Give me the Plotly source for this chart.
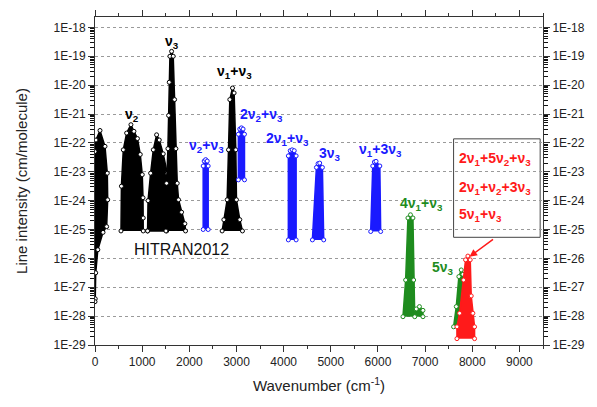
import plotly.graph_objects as go

# ---- band envelopes (wavenumber cm-1, log10 intensity) ----
rot_wn  = [0, 21, 106, 212, 261, 269, 247, 170, 60, 15, 5, 0]
rot_lg  = [-22.3, -21.9, -21.57, -22.12, -23.05, -23.97, -24.9, -25.1, -25.7, -26.5, -27.4, -27.5]

nu2_wn  = [551, 560, 600, 671, 762, 826, 900, 960, 1002, 1018, 1023, 1023]
nu2_lg  = [-25.05, -23.5, -22.24, -21.66, -21.37, -21.6, -21.85, -22.4, -23.1, -23.9, -24.6, -25.05]

nu1_wn  = [1115, 1125, 1179, 1236, 1306, 1363, 1447, 1532, 1520, 1115]
nu1_lg  = [-25.05, -24.0, -23.05, -22.24, -21.72, -21.9, -22.38, -23.05, -25.05, -25.05]

nu3_wn  = [1504, 1518, 1546, 1560, 1574, 1589, 1624, 1659, 1688, 1716, 1744, 1772, 1836, 1906, 1920]
nu3_lg  = [-25.05, -23.4, -22.2, -21.05, -19.9, -19.0, -18.83, -19.0, -20.5, -22.2, -23.4, -23.97, -24.4, -24.8, -25.05]

n13_wn  = [2696, 2732, 2802, 2831, 2859, 2916, 2950, 2986, 3000, 3071, 3127]
n13_lg  = [-25.05, -24.66, -23.97, -22.24, -20.5, -20.1, -20.27, -22.24, -23.97, -24.66, -25.05]

n23_wn  = [2294, 2294, 2315, 2347, 2380, 2400, 2400]
n23_lg  = [-25.0, -22.8, -22.63, -22.58, -22.63, -22.8, -25.0]

b2n23_wn = [3040, 3040, 3070, 3105, 3140, 3170, 3170]
b2n23_lg = [-23.28, -21.7, -21.52, -21.48, -21.52, -21.7, -23.28]

b2n13_wn = [4100, 4100, 4140, 4180, 4225, 4265, 4265]
b2n13_lg = [-25.36, -22.45, -22.27, -22.24, -22.27, -22.45, -25.36]

b3n3_wn = [4610, 4695, 4730, 4765, 4822, 4850]
b3n3_lg = [-25.36, -22.85, -22.72, -22.7, -22.85, -25.36]

bn133_wn = [5846, 5890, 5925, 5960, 6040, 6058]
bn133_lg = [-25.07, -22.8, -22.66, -22.64, -22.8, -25.07]

g41_wn  = [6530, 6587, 6636, 6690, 6742, 6757, 6780, 6813, 6880, 6954, 6954]
g41_lg  = [-28.02, -26.75, -24.6, -24.49, -24.6, -26.75, -28.02, -27.75, -27.67, -27.8, -28.02]

g5_wn   = [7604, 7661, 7716, 7766, 7801, 7830, 7830]
g5_lg   = [-28.37, -27.67, -26.63, -26.4, -26.55, -27.6, -28.37]

red_wn  = [7675, 7675, 7731, 7816, 7858, 7907, 7957, 7978, 8013, 8049, 8049]
red_lg  = [-28.78, -28.37, -27.9, -26.75, -26.05, -25.92, -26.05, -27.3, -27.9, -28.37, -28.78]

x_ticks = [0, 1000, 2000, 3000, 4000, 5000, 6000, 7000, 8000, 9000]
y_exps = list(range(-29, -17))
y_ticktext = ["1E%d" % e for e in y_exps]

BLACK = "#000000"
BLUE = "#1a1aff"
GREEN = "#1e8c1e"
RED = "#ff1a1a"
FONT = "Liberation Sans, Arial, sans-serif"

bands = [
    (rot_wn, rot_lg, BLACK), (nu2_wn, nu2_lg, BLACK), (nu1_wn, nu1_lg, BLACK),
    (nu3_wn, nu3_lg, BLACK), (n13_wn, n13_lg, BLACK),
    (n23_wn, n23_lg, BLUE), (b2n23_wn, b2n23_lg, BLUE), (b2n13_wn, b2n13_lg, BLUE),
    (b3n3_wn, b3n3_lg, BLUE), (bn133_wn, bn133_lg, BLUE),
    (g41_wn, g41_lg, GREEN), (g5_wn, g5_lg, GREEN), (red_wn, red_lg, RED),
]

fig = go.Figure()
for wn, lg, col in bands:
    fig.add_trace(go.Scatter(
        x=wn, y=[10 ** v for v in lg], mode="lines+markers", fill="toself",
        fillcolor=col, line=dict(color=col, width=1.5),
        marker=dict(symbol="circle", size=4, color="white", line=dict(color=col, width=1)),
        showlegend=False, hoverinfo="skip"))
for ax in ("y2", "y3", "y4"):
    fig.add_trace(go.Scatter(x=[None], y=[None], yaxis=ax, showlegend=False))

labels = [
    ("ν<sub>3</sub>", 1624, -18.5, BLACK),
    ("ν<sub>1</sub>+ν<sub>3</sub>", 2955, -19.55, BLACK),
    ("ν<sub>2</sub>", 780, -21.05, BLACK),
    ("ν<sub>2</sub>+ν<sub>3</sub>", 2355, -22.1, BLUE),
    ("2ν<sub>2</sub>+ν<sub>3</sub>", 3530, -21.05, BLUE),
    ("2ν<sub>1</sub>+ν<sub>3</sub>", 4080, -21.85, BLUE),
    ("3ν<sub>3</sub>", 4980, -22.4, BLUE),
    ("ν<sub>1</sub>+3ν<sub>3</sub>", 6060, -22.23, BLUE),
    ("4ν<sub>1</sub>+ν<sub>3</sub>", 6920, -24.1, GREEN),
    ("5ν<sub>3</sub>", 7380, -26.35, GREEN),
]
for txt, x, y, col in labels:
    fig.add_annotation(x=x, y=y, text="<b>" + txt + "</b>", showarrow=False,
                       font=dict(family=FONT, size=14, color=col))

fig.add_annotation(x=1840, y=-25.7, text="HITRAN2012", showarrow=False,
                   font=dict(family=FONT, size=16, color="#111"))

# legend box for red band
fig.add_shape(type="rect", xref="x", yref="y", x0=7604, x1=9440,
              y0=10 ** -25.27, y1=10 ** -21.86,
              line=dict(color="#444", width=1), fillcolor="white", layer="below")
box_lines = [
    ("2ν<sub>1</sub>+5ν<sub>2</sub>+ν<sub>3</sub>", -22.55),
    ("2ν<sub>1</sub>+ν<sub>2</sub>+3ν<sub>3</sub>", -23.55),
    ("5ν<sub>1</sub>+ν<sub>3</sub>", -24.5),
]
for txt, y in box_lines:
    fig.add_annotation(x=7680, y=y, text="<b>" + txt + "</b>", showarrow=False, xanchor="left",
                       font=dict(family=FONT, size=14, color=RED))
fig.add_annotation(x=7942, y=-25.94, ax=8472, ay=-25.30, axref="x", ayref="y",
                   xref="x", yref="y", showarrow=True, arrowhead=2, arrowsize=1,
                   arrowwidth=1.5, arrowcolor=RED, text="")

axis_common = dict(showline=True, linecolor="#333", linewidth=1, automargin=False,
                   tickfont=dict(family=FONT, size=12, color="#222"))
minor_y = []
for e in y_exps[:-1]:
    for k in range(2, 10):
        minor_y.append(k * 10 ** e)
minor_axis = dict(type="log", range=[-29, -17.64], overlaying="y", tickmode="array",
                  tickvals=minor_y, ticks="outside", ticklen=4, tickwidth=1, tickcolor="#111",
                  showticklabels=False, showgrid=False, showline=False, zeroline=False,
                  automargin=False)

fig.update_layout(
    width=589, height=399, margin=dict(l=87, r=54, t=9, b=62),
    plot_bgcolor="white", paper_bgcolor="white",
    xaxis=dict(range=[0, 9500], tickmode="array", tickvals=x_ticks,
               ticks="outside", ticklen=6, tickcolor="#333", mirror="ticks",
               minor=dict(dtick=500, ticks="outside", ticklen=3, tickcolor="#333", showgrid=False),
               showgrid=False, zeroline=False,
               title=dict(text="Wavenumber (cm<sup>-1</sup>)", standoff=12,
                          font=dict(family=FONT, size=15, color="#222")),
               **axis_common),
    yaxis=dict(type="log", range=[-29, -17.64], tickmode="array",
               tickvals=[10 ** e for e in y_exps], ticktext=y_ticktext,
               ticks="outside", ticklen=6, tickcolor="#333",
               showgrid=True, gridcolor="#9a9a9a", griddash="dot", gridwidth=1,
               title=dict(text="Line intensity (cm/molecule)", standoff=22,
                          font=dict(family=FONT, size=15, color="#222")),
               **axis_common),
    yaxis2=dict(type="log", range=[-29, -17.64], overlaying="y", side="right",
                tickmode="array", tickvals=[10 ** e for e in y_exps], ticktext=y_ticktext,
                ticks="outside", ticklen=6, tickcolor="#333",
                showgrid=False, **axis_common),
    yaxis3=dict(side="left", **minor_axis),
    yaxis4=dict(side="right", **minor_axis),
)

fig.write_html("out.html")
